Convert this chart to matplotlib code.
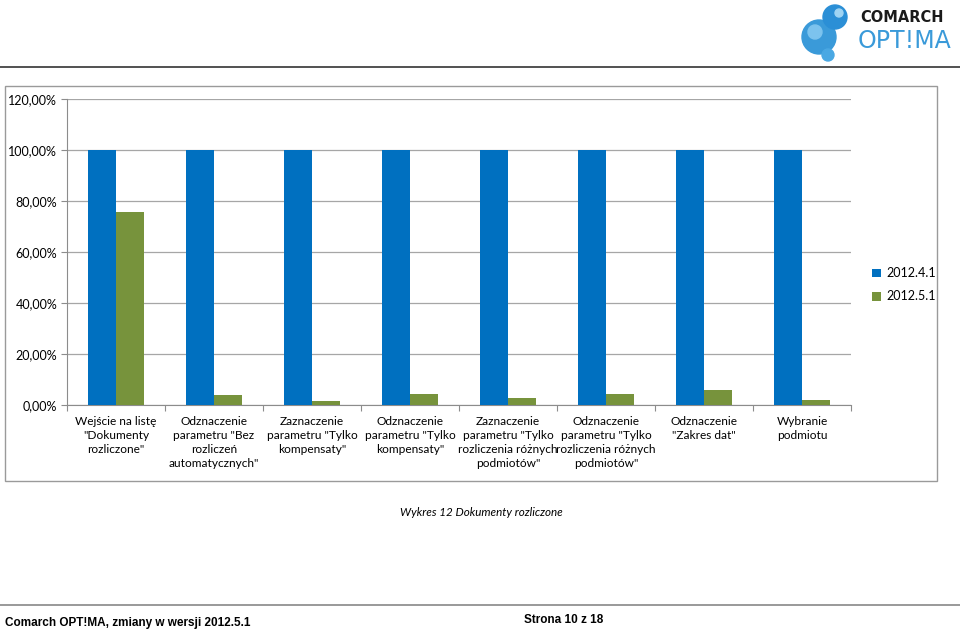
import matplotlib
matplotlib.use("Agg")
import matplotlib.pyplot as plt
import numpy as np
from matplotlib.patches import Circle, Rectangle
from matplotlib.lines import Line2D
from matplotlib.ticker import FuncFormatter, FixedLocator

plt.rcParams['font.family'] = ['Lato', 'DejaVu Sans']

categories = [
    'Wejście na listę\n"Dokumenty\nrozliczone"',
    'Odznaczenie\nparametru "Bez\nrozliczeń\nautomatycznych"',
    'Zaznaczenie\nparametru "Tylko\nkompensaty"',
    'Odznaczenie\nparametru "Tylko\nkompensaty"',
    'Zaznaczenie\nparametru "Tylko\nrozliczenia różnych\npodmiotów"',
    'Odznaczenie\nparametru "Tylko\nrozliczenia różnych\npodmiotów"',
    'Odznaczenie\n"Zakres dat"',
    'Wybranie\npodmiotu',
]
series_names = ['2012.4.1', '2012.5.1']
values_2012_4_1 = [1.00, 1.00, 1.00, 1.00, 1.00, 1.00, 1.00, 1.00]
values_2012_5_1 = [0.756, 0.038, 0.016, 0.043, 0.027, 0.043, 0.057, 0.018]
yticks = [0.0, 0.2, 0.4, 0.6, 0.8, 1.0, 1.2]

W, H = 960, 631
fig = plt.figure(figsize=(9.6, 6.31), dpi=100)

def fx(px):
    return px / W

def fy(py):
    return 1 - py / H

# header line
fig.add_artist(Line2D([0, 1], [fy(67), fy(67)], color='#333333', lw=1.2))
# chart border
fig.add_artist(Rectangle((fx(5), fy(481)), fx(937) - fx(5), fy(86) - fy(481),
                         fill=False, edgecolor='#9a9a9a', lw=1.0))

ax = fig.add_axes([fx(67), fy(405), fx(851) - fx(67), fy(99) - fy(405)])
x = np.arange(len(categories))
bw = 0.2857
ax.bar(x - bw / 2, values_2012_4_1, width=bw, color='#0070C0', label=series_names[0], zorder=3)
ax.bar(x + bw / 2, values_2012_5_1, width=bw, color='#77933C', label=series_names[1], zorder=3)
ax.set_xlim(-0.5, len(categories) - 0.5)
ax.set_ylim(0, 1.2)
ax.set_yticks(yticks)
ax.yaxis.set_major_formatter(FuncFormatter(lambda v, p: f"{v*100:.2f}%".replace('.', ',')))
ax.grid(axis='y', color='#a6a6a6', lw=0.9, zorder=0)
for s in ['top', 'right']:
    ax.spines[s].set_visible(False)
ax.spines['left'].set_color('#8c8c8c')
ax.spines['bottom'].set_color('#8c8c8c')
ax.tick_params(axis='y', length=4, color='#8c8c8c', labelsize=9, pad=3)
ax.xaxis.set_major_locator(FixedLocator(np.arange(-0.5, len(categories), 1.0)))
ax.xaxis.set_minor_locator(FixedLocator(x))
ax.tick_params(axis='x', which='major', length=4, color='#8c8c8c', labelbottom=False)
ax.tick_params(axis='x', which='minor', length=0, labelsize=8.6, pad=8)
ax.set_xticks(x, categories, minor=True)
for lab in ax.get_xticklabels(minor=True):
    lab.set_linespacing(1.32)
    lab.set_verticalalignment('top')

handles, labels = ax.get_legend_handles_labels()
fig.legend(handles, labels, loc='upper left', bbox_to_anchor=(fx(861), fy(256)),
           frameon=False, fontsize=9, handlelength=0.7, handleheight=0.7,
           handletextpad=0.4, labelspacing=0.9)

# caption
fig.text(fx(481), fy(513), 'Wykres 12 Dokumenty rozliczone', ha='center', va='center',
         fontsize=8.4, style='italic')

# footer
fig.add_artist(Line2D([0, 1], [fy(605), fy(605)], color='#888888', lw=1.2))
fig.text(fx(5), fy(623), 'Comarch OPT!MA, zmiany w wersji 2012.5.1', ha='left', va='center',
         fontsize=8.5, weight='bold', family=['Liberation Sans'])
fig.text(fx(564), fy(620), 'Strona 10 z 18', ha='center', va='center',
         fontsize=8.5, weight='bold', family=['Liberation Sans'])

# logo
lax = fig.add_axes([fx(795), fy(62), fx(860) - fx(795), fy(0) - fy(62)])
lax.set_xlim(0, 65)
lax.set_ylim(62, 0)
lax.set_aspect('equal')
lax.axis('off')
lax.add_patch(Circle((24, 37), 17, color='#3a9ad9'))
lax.add_patch(Circle((40, 17), 12, color='#2b8fd6'))
lax.add_patch(Circle((33, 55), 6, color='#4aa8e3'))
lax.add_patch(Circle((20, 32), 7, color='#7cc3ee'))
lax.add_patch(Circle((44, 13), 4, color='#9fd4f3'))
fig.text(fx(860), fy(17), 'COMARCH', ha='left', va='center', fontsize=10.5,
         weight='bold', color='#1a1a1a', family=['DejaVu Sans'])
fig.text(fx(858), fy(41), 'OPT!MA', ha='left', va='center', fontsize=17,
         color='#3a9ad9', family=['DejaVu Sans'])

fig.savefig('out.png', dpi=100)
